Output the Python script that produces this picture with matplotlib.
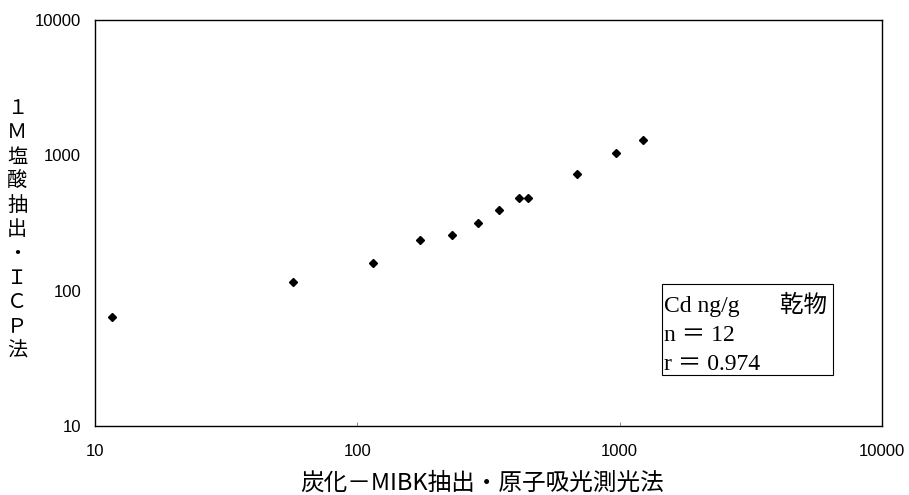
import numpy as np
import matplotlib.pyplot as plt
from matplotlib.patches import Rectangle

# 炭化-MIBK抽出・原子吸光測光法 (x) vs 1M塩酸抽出・ICP法 (y), Cd ng/g 乾物
x_aas = [11.6, 57, 115, 173, 230, 289, 348, 413, 449, 690, 970, 1228]
y_icp = [64, 115, 161, 236, 259, 318, 394, 482, 482, 733, 1036, 1293]
ticks = [10, 100, 1000, 10000]
tick_labels = ['10', '100', '1000', '10000']

cjk = ['Noto Sans CJK JP', 'DejaVu Sans']

fig = plt.figure(figsize=(9.09, 4.95), dpi=100)
ax = fig.add_axes([0.1045, 0.1394, 0.8658, 0.8202])

ax.plot(x_aas, y_icp, 'D', color='black', markersize=4.2, linestyle='none')

ax.set_xscale('log')
ax.set_yscale('log')
ax.set_xlim(10, 10000)
ax.set_ylim(10, 10000)
ax.set_xticks(ticks)
ax.set_xticklabels(tick_labels)
ax.set_yticks(ticks)
ax.set_yticklabels(tick_labels)
ax.minorticks_off()
ax.tick_params(labelsize=12)
ax.tick_params(axis='x', direction='in', length=3, width=0.6, color='#777777', pad=13)
ax.tick_params(axis='y', length=0, pad=10)
for lab in ax.get_xticklabels() + ax.get_yticklabels():
    lab.set_family('Liberation Sans')
for sp in ax.spines.values():
    sp.set_linewidth(1.0)
    sp.set_color('black')

ax.set_xlabel('炭化－MIBK抽出・原子吸光測光法', family=cjk, fontsize=17)
ax.xaxis.set_label_coords(0.492, -0.14, transform=ax.transAxes)
ax.xaxis.label.set_va('center')

ylab = '\n'.join('１Ｍ塩酸抽出・ＩＣＰ法')
fig.text(0.019, 0.536, ylab, family=cjk, fontsize=14.5, linespacing=1.2,
         ha='center', va='center')

# legend-like annotation box
box = Rectangle((0.7205, 0.1256), 0.2173, 0.2241, transform=ax.transAxes,
                facecolor='white', edgecolor='black', linewidth=0.8)
ax.add_patch(box)
ax.text(0.7235, 0.330, 'Cd ng/g\u3000\u2002\u2009乾物\nn ＝ 12\nr ＝ 0.974',
        transform=ax.transAxes, family=['Liberation Serif', 'Noto Sans CJK JP'],
        fontsize=17, linespacing=1.5, ha='left', va='top')

fig.savefig('out.png', dpi=100)
